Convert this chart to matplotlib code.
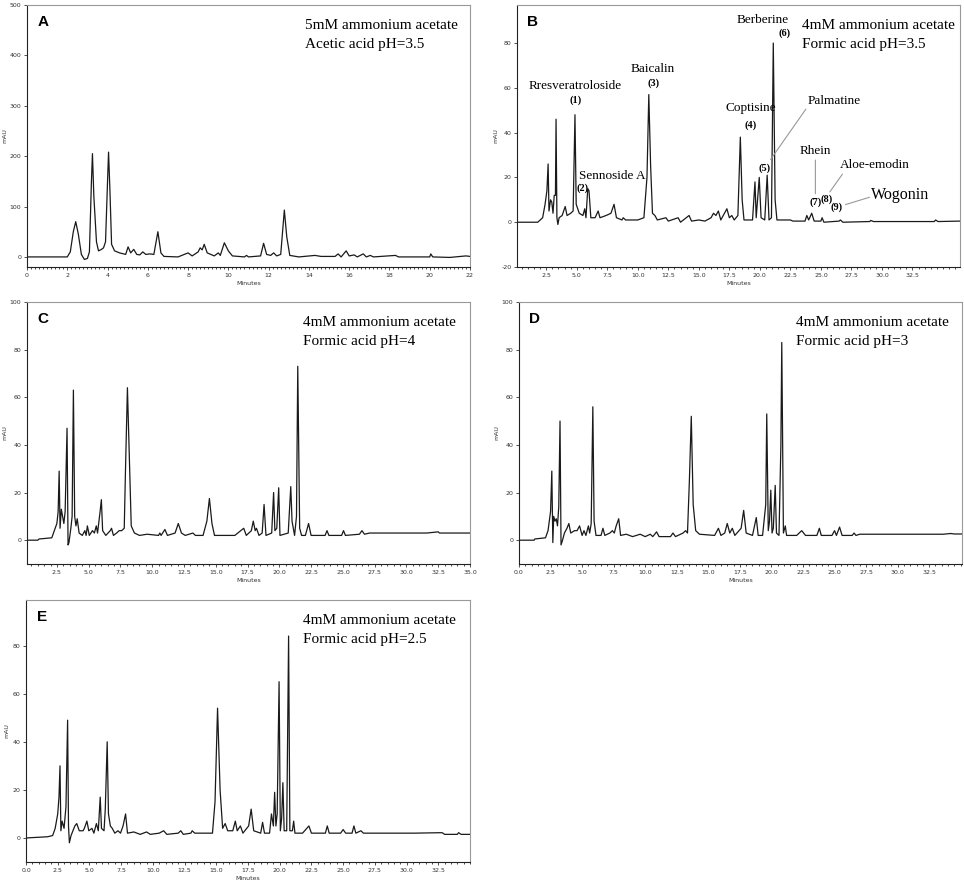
import matplotlib
matplotlib.use("Agg")
import matplotlib.pyplot as plt
from matplotlib.ticker import MultipleLocator, FixedLocator

plt.rcParams["axes.unicode_minus"] = False

# chromatogram traces: retention time (min) and signal (mAU)
timeA = [0, 2.0, 2.15, 2.3, 2.42, 2.55, 2.7, 2.85, 3.0, 3.1, 3.2, 3.25, 3.32, 3.45, 3.55, 3.7, 3.8, 3.9,
         4.0, 4.05, 4.12, 4.2, 4.35, 4.6, 4.9, 5.02, 5.15, 5.3, 5.45, 5.6, 5.75, 5.9, 6.1, 6.3, 6.5, 6.65,
         6.8, 7.5, 8.0, 8.2, 8.5, 8.6, 8.7, 8.8, 8.95, 9.3, 9.5, 9.6, 9.8, 10.0, 10.2, 10.8, 10.9, 11.0,
         11.6, 11.75, 11.9, 12.1, 12.25, 12.4, 12.6, 12.78, 12.9, 13.05, 13.5, 14.3, 14.6, 15.3, 15.45,
         15.6, 15.85, 16.0, 16.25, 16.4, 16.7, 16.85, 17.05, 17.2, 18.3, 18.45, 20.0, 20.05, 20.15, 21.0,
         21.8, 22.0]
signalA = [0, 0, 10, 50, 70, 45, 5, -5, -3, 10, 150, 205, 120, 30, 12, 15, 18, 30,
           150, 208, 130, 25, 12, 8, 5, 20, 8, 15, 5, 4, 10, 5, 6, 5, 50, 8,
           1, 0, 8, 2, 10, 18, 14, 25, 8, 2, 8, 3, 28, 12, 2, 0, 3, 0,
           2, 27, 5, 3, 8, 2, 5, 93, 40, 3, 0, 3, 1, 1, 6,
           0, 12, 2, 4, 0, 6, 0, 3, 0, 3, 0, 0, 6, 0, -1,
           2, 1]

timeB = [0.1, 1.8, 2.2, 2.4, 2.55, 2.65, 2.72, 2.85, 2.95, 3.05, 3.15, 3.25, 3.3, 3.37, 3.45, 3.55, 3.8,
         4.05, 4.2, 4.5, 4.7, 4.85, 4.95, 5.2, 5.5, 5.65, 5.75, 5.9, 6.0, 6.15, 6.5, 6.75, 6.9, 7.4, 7.8,
         8.05, 8.25, 8.7, 8.8, 9.0, 10.0, 10.5, 10.75, 10.9, 11.05, 11.2, 11.4, 11.6, 12.3, 12.5, 13.3,
         13.5, 14.2, 14.4, 15.0, 15.5, 16.0, 16.2, 16.4, 16.6, 16.8, 17.3, 17.5, 17.7, 17.9, 18.2, 18.4,
         18.55, 18.7, 19.4, 19.6, 19.7, 19.95, 20.1, 20.4, 20.6, 20.75, 20.95, 21.1, 21.25, 21.4, 22.5,
         22.7, 23.7, 23.85, 24.0, 24.25, 24.45, 25.0, 25.1, 25.25, 26.5, 26.6, 26.8, 29.0, 29.1, 29.3,
         34.3, 34.4, 34.6, 36.4]
signalB = [0, 0, 2, 8, 14, 26, 5, 10, 9, 4, 12, 12, 46, 2, -1, 2, 3,
           7, 3, 4, 5, 48, 8, 4, 3, 6, 2, 15, 14, 2, 2, 5, 2, 3, 4,
           8, 2, 1, 2, 1, 1, 2, 20, 57, 25, 4, 3, 1, 2, 0.5, 2,
           0, 3, 0.5, 1, 0.5, 2, 4, 3, 5, 1, 6, 2, 3, 1, 3, 38,
           10, 1, 1, 18, 2, 20, 2, 1, 21, 1, 2, 80, 10, 1, 1,
           0.5, 0.5, 3, 1, 4, 0.5, 0.5, 2, 0, 0.5, 1, 0, 0.3, 0.8, 0.3,
           0.3, 1, 0.3, 0.5]

timeC = [0.15, 1.0, 1.1, 2.1, 2.3, 2.5, 2.6, 2.68, 2.75, 2.85, 2.95, 3.05, 3.15, 3.3, 3.38, 3.45, 3.6,
         3.7, 3.8, 3.9, 4.0, 4.1, 4.25, 4.5, 4.7, 4.8, 4.9, 5.05, 5.3, 5.45, 5.6, 5.7, 5.9, 6.0, 6.1,
         6.35, 6.7, 6.8, 6.95, 7.2, 7.4, 7.6, 7.8, 7.9, 8.05, 8.2, 8.35, 8.6, 9.0, 9.6, 10.5, 10.6, 10.7,
         11.0, 11.2, 11.8, 12.05, 12.3, 12.6, 13.2, 13.4, 14.0, 14.3, 14.5, 14.7, 14.9, 16.5, 17.2, 17.4,
         17.8, 17.95, 18.1, 18.2, 18.4, 18.65, 18.8, 18.95, 19.4, 19.55, 19.65, 19.8, 19.95, 20.05, 20.7,
         20.9, 21.0, 21.1, 21.2, 21.35, 21.45, 21.6, 21.75, 22.05, 22.3, 22.5, 23.6, 23.75, 23.9, 24.9,
         25.05, 25.2, 26.3, 26.5, 26.7, 27.1, 31.6, 32.5, 32.6, 35.0]
signalC = [0, 0, 0.5, 1, 4, 7, 12, 29, 5, 13, 10, 7, 12, 47, -2, -1, 5,
           10, 63, 10, 6, 9, 3, 2, 4, 2, 6, 2, 4, 3, 6, 3, 12, 17, 4,
           2, 4, 5, 2, 3, 4, 4, 5, 30, 64, 35, 6, 3, 2, 2.5, 2, 3, 2,
           4.5, 2, 3, 7, 3, 2, 3, 2, 2, 8, 17.5, 7, 2, 2, 5, 2,
           4, 8, 4, 5, 2, 3, 15, 2, 3, 20, 4, 5, 22, 2, 3,
           22.5, 8, 5, 2, 10, 73, 5, 2, 2, 7, 2, 2, 4, 2, 2,
           4, 2, 2.5, 4, 2.5, 3, 3, 3.5, 3, 3]

timeD = [0, 1.2, 1.25, 2.1, 2.3, 2.5, 2.6, 2.68, 2.75, 2.85, 2.95, 3.05, 3.15, 3.25, 3.33, 3.45, 3.6,
         3.8, 3.95, 4.1, 4.4, 4.6, 4.8, 5.0, 5.15, 5.3, 5.5, 5.6, 5.72, 5.85, 5.95, 6.1, 6.5, 6.65, 6.8,
         7.2, 7.4, 7.55, 7.7, 7.9, 8.05, 8.5, 9.0, 9.6, 10.0, 10.4, 10.6, 10.9, 11.1, 12.0, 12.2, 12.4,
         13.0, 13.2, 13.35, 13.5, 13.65, 13.8, 14.0, 14.3, 15.5, 15.8, 16.0, 16.3, 16.5, 16.7, 16.9, 17.1,
         17.6, 17.8, 18.0, 18.5, 18.8, 18.95, 19.3, 19.55, 19.63, 19.75, 19.85, 19.95, 20.05, 20.15, 20.3,
         20.4, 20.6, 20.75, 20.82, 20.95, 21.1, 21.2, 22.0, 22.4, 22.7, 23.6, 23.8, 23.95, 24.8, 25.0,
         25.15, 25.4, 25.6, 26.4, 26.55, 26.7, 27.0, 29.2, 33.6, 34.2, 34.5, 35.1]
signalD = [0, 0, 0.5, 1, 4, 12, 29, -1, 10, 8, 9, 6, 14, 50, -2, 0, 3,
           5, 7, 3, 4, 4, 6, 2, 4, 2, 6, 3, 7, 56, 8, 2, 2, 5, 2,
           3, 4, 3, 6, 9, 2, 2.5, 1.5, 2.5, 1.5, 2.5, 1.5, 3.5, 1.5, 1.5, 3, 1.5,
           3, 4, 3, 25, 52, 15, 4, 2.5, 2, 5, 2, 3, 7, 3, 5, 2,
           5, 12.5, 3, 2, 9.5, 2, 2, 15, 53, 4, 8, 21, 3, 5, 23,
           3, 2, 40, 83, 3, 6, 2, 2, 4, 2, 2, 5, 2, 2, 4,
           2, 5.5, 2, 2, 3, 2, 2.5, 2.5, 2.5, 2.8, 2.6, 2.6]

timeE = [0, 1.7, 2.1, 2.3, 2.5, 2.6, 2.68, 2.75, 2.85, 3.0, 3.15, 3.28, 3.35, 3.42, 3.55, 3.7, 3.85,
         4.0, 4.2, 4.5, 4.6, 4.8, 4.95, 5.2, 5.35, 5.55, 5.7, 5.85, 5.95, 6.15, 6.25, 6.4, 6.5, 6.65,
         6.8, 7.0, 7.25, 7.45, 7.65, 7.85, 8.0, 8.5, 9.0, 9.5, 9.8, 10.5, 10.85, 11.1, 12.0, 12.2, 12.4,
         13.0, 13.1, 13.3, 14.7, 14.9, 15.1, 15.3, 15.5, 15.7, 15.9, 16.3, 16.5, 16.65, 16.9, 17.1, 17.55,
         17.75, 17.95, 18.5, 18.65, 18.8, 19.2, 19.35, 19.5, 19.6, 19.7, 19.8, 19.95, 20.05, 20.15, 20.25,
         20.35, 20.55, 20.7, 20.8, 21.0, 21.1, 21.2, 21.8, 22.3, 22.5, 23.6, 23.75, 23.9, 24.8, 25.0,
         25.2, 25.7, 25.85, 26.0, 26.4, 26.6, 27.0, 30.6, 32.8, 33.0, 34.0, 34.1, 34.3, 35.0]
signalE = [0, 0.5, 1, 4, 10, 17, 30, 3, 7, 4, 13, 49, 5, -2, 1, 3, 5,
           6, 3, 3, 4, 7, 3, 4, 2, 6, 3, 17, 4, 3, 12, 40, 10, 5,
           4, 2, 3, 2, 5, 10, 2, 2.5, 1.5, 2.5, 1.5, 2, 3, 1.5, 2, 3, 1.5,
           2, 3, 2, 2, 15, 54, 20, 4, 6, 3, 3, 7, 3, 5, 2, 5,
           12, 3, 2, 6.5, 2, 2, 10, 5, 19, 5, 10, 65, 3, 8, 23,
           3, 3, 84, 3, 3, 7, 2, 2, 5, 2, 2, 5, 2, 2, 3.5,
           2, 2, 5, 2, 3, 2, 2, 2, 2.2, 1.5, 1.5, 2.2, 1.5, 1.5]

panel_letters = ["A", "B", "C", "D", "E"]
conditions = [
    ["5mM ammonium acetate", "Acetic acid pH=3.5"],
    ["4mM ammonium acetate", "Formic acid pH=3.5"],
    ["4mM ammonium acetate", "Formic acid pH=4"],
    ["4mM ammonium acetate", "Formic acid pH=3"],
    ["4mM ammonium acetate", "Formic acid pH=2.5"],
]
compounds = ["Rresveratroloside", "Sennoside A", "Baicalin", "Coptisine", "Palmatine",
             "Berberine", "Rhein", "Aloe-emodin", "Wogonin"]
peak_numbers = ["(1)", "(2)", "(3)", "(4)", "(5)", "(6)", "(7)", "(8)", "(9)"]

xticksA = [0, 2, 4, 6, 8, 10, 12, 14, 16, 18, 20, 22]
xticksB = [2.5, 5.0, 7.5, 10.0, 12.5, 15.0, 17.5, 20.0, 22.5, 25.0, 27.5, 30.0, 32.5]
xticksC = [2.5, 5.0, 7.5, 10.0, 12.5, 15.0, 17.5, 20.0, 22.5, 25.0, 27.5, 30.0, 32.5, 35.0]
xticksD = [0.0, 2.5, 5.0, 7.5, 10.0, 12.5, 15.0, 17.5, 20.0, 22.5, 25.0, 27.5, 30.0, 32.5]
xticksE = xticksD

W, H = 964, 886
fig = plt.figure(figsize=(W / 100, H / 100), dpi=100)


def px_axes(left, top, right, bottom):
    return fig.add_axes([left / W, 1 - bottom / H, (right - left) / W, (bottom - top) / H])


def style_axes(ax, xlim, ylim, xticks, xminor, ymajor, xfmt):
    ax.set_xlim(*xlim)
    ax.set_ylim(*ylim)
    ax.xaxis.set_major_locator(FixedLocator(xticks))
    ax.xaxis.set_minor_locator(MultipleLocator(xminor))
    ax.yaxis.set_major_locator(MultipleLocator(ymajor))
    ax.xaxis.set_major_formatter(plt.FormatStrFormatter(xfmt))
    ax.tick_params(labelsize=4.5, colors="#333333", length=2.5, width=0.6, pad=1.5)
    ax.tick_params(which="minor", length=1.5, width=0.5)
    for s in ["top", "right"]:
        ax.spines[s].set_color("#999999")
        ax.spines[s].set_linewidth(0.8)
    for s in ["left", "bottom"]:
        ax.spines[s].set_color("#222222")
        ax.spines[s].set_linewidth(0.8)
    ax.set_xlabel("Minutes", fontsize=4.5, labelpad=2.5, color="#333333")
    ax.set_ylabel("mAU", fontsize=4.5, labelpad=2, color="#333333")


serif = ["Liberation Serif", "DejaVu Serif"]
line_kw = dict(color="#1a1a1a", lw=0.9)

panels = [
    (px_axes(27, 5, 470, 267), timeA, signalA, (0, 22), (-20, 500), xticksA, 0.2, 100, "%d"),
    (px_axes(517, 5, 960, 267), timeB, signalB, (0.1, 36.4), (-20, 97), xticksB, 0.5, 20, "%.1f"),
    (px_axes(27, 302, 470, 564), timeC, signalC, (0.15, 35), (-10, 100), xticksC, 0.5, 20, "%.1f"),
    (px_axes(519, 302, 962, 564), timeD, signalD, (0, 35.1), (-10, 100), xticksD, 0.5, 20, "%.1f"),
    (px_axes(26, 600, 470, 862), timeE, signalE, (0, 35), (-10, 99), xticksE, 0.5, 20, "%.1f"),
]
text_x = [0.628, 0.643, 0.623, 0.625, 0.623]

for i, (ax, t, s, xl, yl, xt, xmin, ymaj, fmt) in enumerate(panels):
    ax.plot(t, s, **line_kw)
    style_axes(ax, xl, yl, xt, xmin, ymaj, fmt)
    ax.text(0.036, 0.935, panel_letters[i], transform=ax.transAxes, fontsize=11,
            fontweight="bold", family=["Liberation Sans", "DejaVu Sans"], va="center", ha="center")
    ax.text(text_x[i], 0.922, conditions[i][0], transform=ax.transAxes, fontsize=11,
            family=serif, va="center", ha="left")
    ax.text(text_x[i], 0.848, conditions[i][1], transform=ax.transAxes, fontsize=11,
            family=serif, va="center", ha="left")

# compound labels in panel B
axB = panels[1][0]
name_pos = [(4.9, 61), (7.9, 20.5), (11.25, 68.5), (19.25, 51), (26.1, 54),
            (20.2, 90.5), (24.55, 32), (29.4, 25.5), (31.5, 12)]
num_pos = [(4.9, 54.5), (5.45, 15), (11.25, 62), (19.25, 43.5), (20.4, 24),
           (22.0, 84.5), (24.55, 8.8), (25.45, 10.3), (26.3, 6.5)]
name_size = [9.5, 9.5, 9.5, 9.5, 9.5, 9.5, 9.5, 9.5, 11.5]
for k, name in enumerate(compounds):
    axB.text(*name_pos[k], name, fontsize=name_size[k], family=serif, ha="center", va="center")
    axB.text(*num_pos[k], peak_numbers[k], fontsize=7.5, family=serif, fontweight="bold",
             ha="center", va="center")

# leader lines from labels to peak numbers
leaders = [((20.75, 27), (23.9, 51.5)), ((24.55, 11.5), (24.55, 29)),
           ((25.6, 12.5), (26.9, 22.5)), ((26.8, 7.5), (29.2, 11.5))]
for (x0, y0), (x1, y1) in leaders:
    axB.annotate("", xy=(x0, y0), xytext=(x1, y1),
                 arrowprops=dict(arrowstyle="-", color="#999999", lw=0.8))

fig.savefig("out.png", dpi=100)
